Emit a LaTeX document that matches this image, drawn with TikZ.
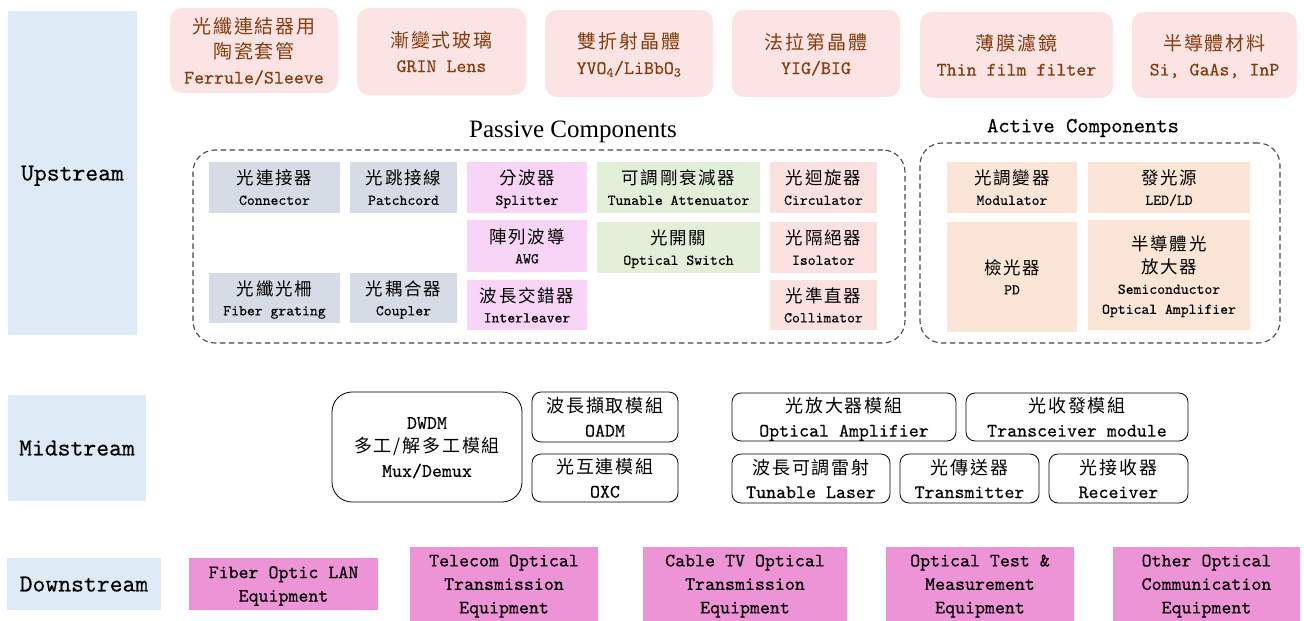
\documentclass[tikz,border=0pt]{standalone}
\usepackage{fontspec}
\setmonofont{lmmono10-regular.otf}[FakeBold=0.3]
\newfontfamily\cjk{Noto Sans CJK TC}[LetterSpace=10]
\newfontfamily\tms{Liberation Serif}
\renewcommand*\familydefault{\ttdefault}
\newcommand{\zh}[2]{{\cjk\fontsize{#1}{#1}\selectfont #2}}
\newcommand{\fsz}[2]{\fontsize{#1}{#2}\selectfont}
\newcommand{\bx}[7]{\node[#2, minimum width={#5-#3}, minimum height={#6-#4}] (#1) at ({(#3+#5)/2},{(#4+#6)/2}) {#7};}
\definecolor{lblue}{HTML}{DEEBF7}
\definecolor{tpink}{HTML}{FCE4E4}
\definecolor{tbrown}{HTML}{843C0C}
\definecolor{cgray}{HTML}{D6DCE5}
\definecolor{cmag}{HTML}{F8D5F6}
\definecolor{cgreen}{HTML}{E2F0D9}
\definecolor{cpink}{HTML}{FCE1E1}
\definecolor{cpeach}{HTML}{FBE5D6}
\definecolor{dmag}{HTML}{EC94D6}
\definecolor{dashc}{HTML}{3E4856}
\tikzset{
  lab/.style={fill=lblue, inner sep=0pt, text depth=0pt, font=\ttfamily\fsz{24.5}{30}},
  topbox/.style={fill=tpink, rounded corners=12pt, text=tbrown, align=center, inner sep=0pt, text depth=-2pt, font=\ttfamily\fsz{19}{25}},
  cell/.style={inner sep=0pt, align=center, text depth=-1pt, font=\ttfamily\fsz{15}{20}},
  grp/.style={draw=dashc, dash pattern=on 5.5pt off 3.5pt, line width=1.1pt, rounded corners=22pt, inner sep=0pt},
  midbox/.style={draw=black, line width=0.8pt, fill=white, rounded corners=9pt, inner sep=0pt, align=center, text depth=-2pt, font=\ttfamily\fsz{19}{24}},
  dnbox/.style={fill=dmag, inner sep=0pt, align=center, text depth=-3pt, font=\ttfamily\fsz{19}{23.5}},
}
\begin{document}
\begin{tikzpicture}[x=1pt,y=-1pt]
\useasboundingbox (0,0) rectangle (1304,621);
% stream labels
\bx{up}{lab}{8}{11}{137}{335}{Upstream}
\bx{mid}{lab}{8}{395}{146}{501}{Midstream}
\bx{down}{lab}{7}{558}{161}{610}{Downstream}
% top row materials
\bx{t1}{topbox}{170}{8}{338}{93}{\zh{19}{光纖連結器用}\\\zh{19}{陶瓷套管}\\Ferrule/Sleeve}
\bx{t2}{topbox}{357}{8}{526}{95}{\zh{19}{漸變式玻璃}\\GRIN Lens}
\bx{t3}{topbox}{545}{10}{713}{97}{\zh{19}{雙折射晶體}\\YVO\textsubscript{4}/LiBbO\textsubscript{3}}
\bx{t4}{topbox}{732}{10}{900}{97}{\zh{19}{法拉第晶體}\\YIG/BIG}
\bx{t5}{topbox}{920}{12}{1113}{98}{\zh{19}{薄膜濾鏡}\\Thin film filter}
\bx{t6}{topbox}{1132}{12}{1297}{98}{\zh{19}{半導體材料}\\Si, GaAs, InP}
% group titles
\node[font=\tms\fsz{25}{30}] (ptitle) at (573,132) {Passive Components};
\node[font=\ttfamily\fsz{21.5}{26}] (atitle) at (1083,128) {Active Components};
% groups
\bx{passive}{grp}{193}{150}{905}{343}{}
\bx{active}{grp}{920}{143}{1280}{343}{}
% passive cells
\bx{conn}{cell, fill=cgray}{209}{162}{340}{213}{\zh{17.5}{光連接器}\\Connector}
\bx{patch}{cell, fill=cgray}{350}{162}{457}{213}{\zh{17.5}{光跳接線}\\Patchcord}
\bx{fg}{cell, fill=cgray}{209}{273}{340}{323}{\zh{17.5}{光纖光柵}\\Fiber grating}
\bx{coup}{cell, fill=cgray}{350}{273}{457}{323}{\zh{17.5}{光耦合器}\\Coupler}
\bx{split}{cell, fill=cmag}{467}{162}{587}{213}{\zh{17.5}{分波器}\\Splitter}
\bx{awg}{cell, fill=cmag}{467}{220}{587}{272}{\zh{17.5}{陣列波導}\\AWG}
\bx{inter}{cell, fill=cmag}{467}{280}{587}{330}{\zh{17.5}{波長交錯器}\\Interleaver}
\bx{tuna}{cell, fill=cgreen}{597}{162}{760}{213}{\zh{17.5}{可調剛衰減器}\\Tunable Attenuator}
\bx{osw}{cell, fill=cgreen}{597}{222}{760}{273}{\zh{17.5}{光開關}\\Optical Switch}
\bx{circ}{cell, fill=cpink}{770}{162}{877}{213}{\zh{17.5}{光迴旋器}\\Circulator}
\bx{iso}{cell, fill=cpink}{770}{222}{877}{273}{\zh{17.5}{光隔絕器}\\Isolator}
\bx{coll}{cell, fill=cpink}{770}{280}{877}{330}{\zh{17.5}{光準直器}\\Collimator}
% active cells
\bx{mod}{cell, fill=cpeach}{947}{162}{1077}{213}{\zh{17.5}{光調變器}\\Modulator}
\bx{led}{cell, fill=cpeach}{1088}{162}{1250}{213}{\zh{17.5}{發光源}\\LED/LD}
\bx{pd}{cell, fill=cpeach}{947}{222}{1077}{332}{\zh{17.5}{檢光器}\\PD}
\bx{soa}{cell, fill=cpeach}{1088}{220}{1250}{330}{\zh{17.5}{半導體光}\\[3pt]\zh{17.5}{放大器}\\Semiconductor\\Optical Amplifier}
% midstream modules
\bx{dwdm}{midbox, rounded corners=20pt}{332}{392}{522}{502}{DWDM\\\zh{18}{多工/解多工模組}\\Mux/Demux}
\bx{oadm}{midbox}{532}{392}{678}{442}{\zh{18}{波長擷取模組}\\OADM}
\bx{oxc}{midbox}{532}{454}{678}{502}{\zh{18}{光互連模組}\\OXC}
\bx{oamp}{midbox}{732}{393}{956}{441}{\zh{18}{光放大器模組}\\Optical Amplifier}
\bx{trx}{midbox}{966}{393}{1188}{441}{\zh{18}{光收發模組}\\Transceiver module}
\bx{tl}{midbox}{732}{454}{890}{503}{\zh{18}{波長可調雷射}\\Tunable Laser}
\bx{tx}{midbox}{900}{454}{1039}{503}{\zh{18}{光傳送器}\\Transmitter}
\bx{rx}{midbox}{1049}{454}{1188}{503}{\zh{18}{光接收器}\\Receiver}
% downstream equipment
\bx{d1}{dnbox}{189}{558}{378}{610}{Fiber Optic LAN\\Equipment}
\bx{d2}{dnbox}{410}{547}{598}{621}{Telecom Optical\\Transmission\\Equipment}
\bx{d3}{dnbox}{643}{547}{847}{621}{Cable TV Optical\\Transmission\\Equipment}
\bx{d4}{dnbox}{886}{547}{1074}{621}{Optical Test \&\\Measurement\\Equipment}
\bx{d5}{dnbox}{1113}{547}{1300}{621}{Other Optical\\Communication\\Equipment}
\end{tikzpicture}
\end{document}
